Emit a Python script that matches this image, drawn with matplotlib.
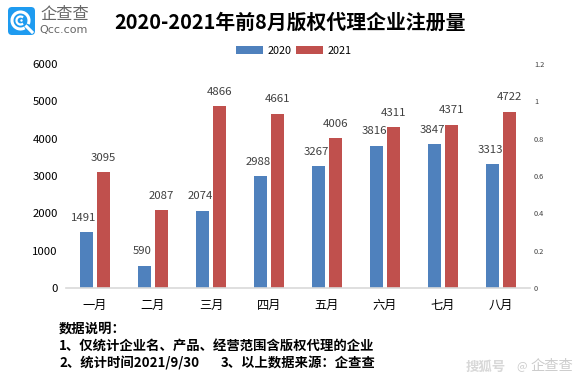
import numpy as np
import matplotlib
matplotlib.use('agg')
import matplotlib.pyplot as plt
from matplotlib.patches import FancyBboxPatch, Arc, Circle

plt.rcParams['font.family'] = ['Noto Sans CJK SC', 'DejaVu Sans']

months = ['一月', '二月', '三月', '四月', '五月', '六月', '七月', '八月']
values_2020 = [1491, 590, 2074, 2988, 3267, 3816, 3847, 3313]
values_2021 = [3095, 2087, 4866, 4661, 4006, 4311, 4371, 4722]
left_ticks = [0, 1000, 2000, 3000, 4000, 5000, 6000]
right_ticks = [0, 0.2, 0.4, 0.6, 0.8, 1, 1.2]
right_labels = ['0', '0.2', '0.4', '0.6', '0.8', '1', '1.2']

W, H = 581, 380
BLUE = '#4f81bd'
RED = '#c0504d'

fig = plt.figure(figsize=(W / 100, H / 100), dpi=100)
ax = fig.add_axes([66 / W, 1 - 288 / H, 464 / W, 224 / H])

x = np.arange(len(months))
bar_w = 0.224
offset = 0.147
ax.bar(x - offset, values_2020, bar_w, color=BLUE, label='2020')
ax.bar(x + offset, values_2021, bar_w, color=RED, label='2021')

# labels sit a fixed number of pixels above the bars
for i in range(len(months)):
    ax.annotate(str(values_2020[i]), (x[i] - offset, values_2020[i]), xytext=(-2.5, 14.5),
                textcoords='offset pixels', ha='center', va='center', fontsize=8.2, color='#404040')
    ax.annotate(str(values_2021[i]), (x[i] + offset, values_2021[i]), xytext=(-0.5, 14.5),
                textcoords='offset pixels', ha='center', va='center', fontsize=8.2, color='#404040')

ax.set_xlim(-0.5, 7.5)
ax.set_ylim(0, 6000)
ax.set_xticks(x)
ax.set_xticklabels(months, fontsize=8.8, color='black')
ax.set_yticks(left_ticks)
ax.tick_params(axis='y', length=0, labelsize=8.2, pad=5.8)
ax.tick_params(axis='x', length=0, pad=8)
for s in ['top', 'left', 'right']:
    ax.spines[s].set_visible(False)
ax.spines['bottom'].set_color('#d9d9d9')
ax.spines['bottom'].set_linewidth(1.2)

ax2 = ax.twinx()
ax2.set_ylim(0, 1.2)
ax2.set_yticks(right_ticks)
ax2.set_yticklabels(right_labels, fontsize=5.3, color='#404040')
ax2.tick_params(axis='y', length=0, pad=2.9)
for s in ax2.spines.values():
    s.set_visible(False)

ax.legend(loc='center', bbox_to_anchor=(0.491, 1.058), ncol=2, frameon=False,
          fontsize=7.8, handlelength=2.5, handleheight=0.75, columnspacing=0.4,
          handletextpad=0.4, borderpad=0, borderaxespad=0)

# everything outside the plot is placed in pixels
bg = fig.add_axes([0, 0, 1, 1], facecolor='none')
bg.set_xlim(0, W)
bg.set_ylim(H, 0)
bg.axis('off')

bg.text(290, 22, '2020-2021年前8月版权代理企业注册量', ha='center', va='center',
        fontsize=14.3, fontweight='bold', color='black')

bg.text(59, 329, '数据说明：', va='center', fontsize=9.6, fontweight='bold', color='black')
bg.text(59, 346.5, '1、仅统计企业名、产品、经营范围含版权代理的企业', va='center', fontsize=9.6, fontweight='bold', color='black')
bg.text(59, 363.5, '2、统计时间2021/9/30', va='center', fontsize=9.6, fontweight='bold', color='black')
bg.text(221, 363.5, '3、以上数据来源：企查查', va='center', fontsize=9.6, fontweight='bold', color='black')

# logo
bg.add_patch(FancyBboxPatch((8, 7), 27, 28, boxstyle='round,pad=0,rounding_size=4', fc='#1e9bf0', ec='none'))
bg.add_patch(Arc((20.5, 20.5), 17, 17, theta1=60, theta2=25, ec='white', lw=2.2))
bg.add_patch(Arc((20.5, 20.5), 8, 8, theta1=50, theta2=310, ec='white', lw=1.6))
bg.add_patch(Circle((21.5, 20.5), 1.2, fc='white', ec='none'))
bg.plot([26.5, 32], [26.5, 32], color='white', lw=2.2)
bg.text(64.5, 15, '企查查', ha='center', va='center', fontsize=11.7, color='#666666')
bg.text(64, 30.5, 'Qcc.com', ha='center', va='center', fontsize=8, color='#666666', family='DejaVu Sans')

# watermark
bg.text(486, 367, '搜狐号', ha='center', va='center', fontsize=9.6, color='#d8d8d8', fontweight='bold')
bg.text(521.5, 366, '@', ha='center', va='center', fontsize=8, color='#cccccc')
bg.text(551.5, 366, '企查查', ha='center', va='center', fontsize=10.3, color='#cccccc')

fig.savefig('out.png', dpi=100)
